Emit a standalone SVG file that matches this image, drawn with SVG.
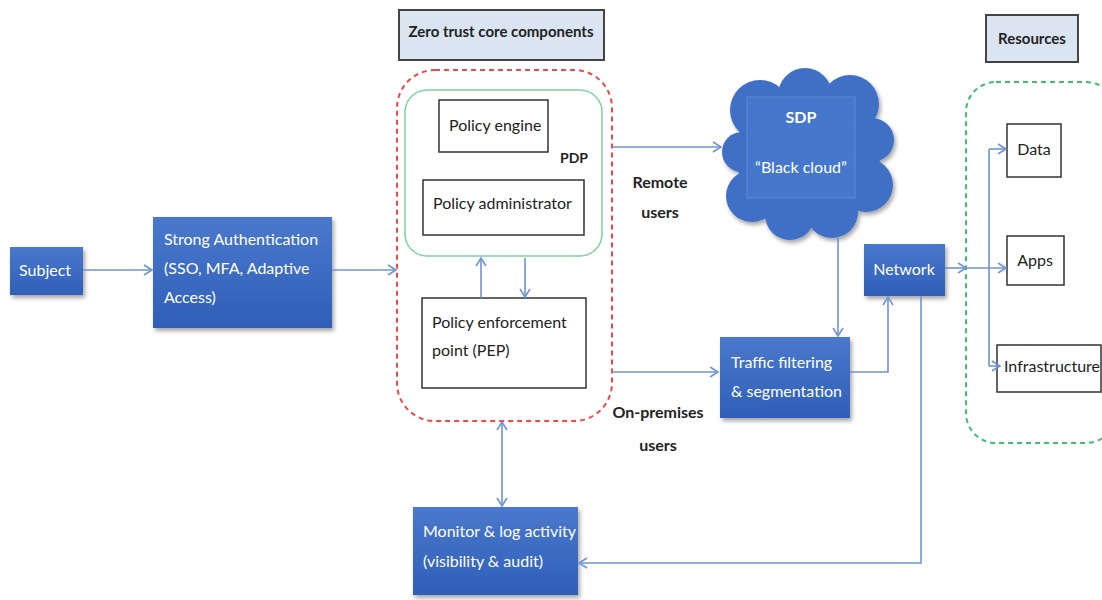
<svg xmlns="http://www.w3.org/2000/svg" width="1102" height="600" viewBox="0 0 1102 600">
<style>
text{font-family:Lato,"Open Sans","Liberation Sans",sans-serif}
.blue{fill:url(#bg);filter:url(#sh)}
.wt{fill:#fff;font-size:16px}
.box{fill:#fff;stroke:#333;stroke-width:1.5}
.bt{fill:#222;font-size:16px}
.hdr{fill:#dbe5f1;stroke:#444;stroke-width:2}
.ht{fill:#222;font-size:15px;font-weight:bold}
.lbl{fill:#222;font-size:16px;font-weight:bold;text-anchor:middle}
.c{fill:none;stroke:#6f94d6;stroke-width:1.6}
.ca{fill:none;stroke:#6f94d6;stroke-width:1.6;marker-end:url(#ar)}
</style>
<defs>
<linearGradient id="bg" x1="0" y1="0" x2="0" y2="1"><stop offset="0" stop-color="#4a78cc"/><stop offset="1" stop-color="#2f5fb8"/></linearGradient>
<filter id="sh" x="-10%" y="-10%" width="130%" height="130%"><feDropShadow dx="2" dy="3" stdDeviation="2" flood-color="#000" flood-opacity="0.35"/></filter>
<marker id="ar" markerWidth="12" markerHeight="12" refX="10" refY="6" orient="auto" markerUnits="userSpaceOnUse"><path d="M2,1 L10,6 L2,11" fill="none" stroke="#6f94d6" stroke-width="1.6"/></marker>
<marker id="as" markerWidth="12" markerHeight="12" refX="2" refY="6" orient="auto" markerUnits="userSpaceOnUse"><path d="M10,1 L2,6 L10,11" fill="none" stroke="#6f94d6" stroke-width="1.6"/></marker>
</defs>
<rect width="1102" height="600" fill="#fff"/>

<g id="zt-header"><rect class="hdr" x="399" y="10" width="205" height="50"/><text class="ht" x="501" y="37" text-anchor="middle">Zero trust core components</text></g>
<g id="zt-container"><rect x="397" y="70" width="215" height="351" rx="38" fill="none" stroke="#f04848" stroke-width="2" stroke-dasharray="5,4"/></g>
<g id="pdp"><rect x="405" y="90" width="197" height="166" rx="22" fill="none" stroke="#7fd3a0" stroke-width="1.5"/><text x="560" y="163" fill="#222" font-size="14" font-weight="bold">PDP</text></g>
<g id="policy-engine"><rect class="box" x="439" y="100" width="109" height="52"/><text class="bt" x="449" y="131">Policy engine</text></g>
<g id="policy-admin"><rect class="box" x="423" y="180" width="161" height="55"/><text class="bt" x="433" y="209">Policy administrator</text></g>
<g id="pep"><rect class="box" x="422" y="298" width="164" height="90"/><text class="bt" x="432" y="328">Policy enforcement</text><text class="bt" x="432" y="356">point (PEP)</text></g>

<g id="subject"><rect class="blue" x="10" y="247" width="73" height="48"/><text class="wt" x="19" y="276">Subject</text></g>
<g id="strong-auth"><rect class="blue" x="153" y="217" width="179" height="111"/><text class="wt" x="164" y="245">Strong Authentication</text><text class="wt" x="164" y="274">(SSO, MFA, Adaptive</text><text class="wt" x="164" y="303">Access)</text></g>

<g id="sdp-cloud">
<g fill="#3f6fc6" filter="url(#sh)">
<ellipse cx="808" cy="155" rx="72" ry="66"/>
<circle cx="760" cy="110" r="30"/><circle cx="805" cy="95" r="27"/><circle cx="850" cy="104" r="29"/><circle cx="872" cy="140" r="22"/><circle cx="866" cy="185" r="27"/><circle cx="832" cy="212" r="26"/><circle cx="790" cy="215" r="25"/><circle cx="752" cy="196" r="26"/><circle cx="742" cy="152" r="20"/>
</g>
<rect x="747" y="97" width="108" height="101" fill="#4577cc" stroke="#5f8ad6" stroke-width="1"/>
<text class="wt" x="801" y="123" text-anchor="middle" font-weight="bold">SDP</text>
<text class="wt" x="801" y="173" text-anchor="middle">“Black cloud”</text>
</g>

<g id="traffic"><rect class="blue" x="720" y="337" width="130" height="81"/><text class="wt" x="731" y="368">Traffic filtering</text><text class="wt" x="731" y="397">&amp; segmentation</text></g>
<g id="network"><rect class="blue" x="864" y="244" width="81" height="52"/><text class="wt" x="904" y="275" text-anchor="middle">Network</text></g>
<g id="monitor"><rect class="blue" x="413" y="507" width="165" height="88"/><text class="wt" x="423" y="537">Monitor &amp; log activity</text><text class="wt" x="423" y="567">(visibility &amp; audit)</text></g>

<g id="res-header"><rect class="hdr" x="986" y="15" width="92" height="47"/><text class="ht" x="1032" y="44" text-anchor="middle">Resources</text></g>
<g id="res-container"><rect x="966" y="82" width="150" height="361" rx="30" fill="none" stroke="#3cbf6e" stroke-width="2" stroke-dasharray="5,4"/></g>
<g id="data"><rect class="box" x="1007" y="124" width="54" height="53"/><text class="bt" x="1034" y="155" text-anchor="middle">Data</text></g>
<g id="apps"><rect class="box" x="1007" y="236" width="57" height="49"/><text class="bt" x="1035" y="266" text-anchor="middle">Apps</text></g>
<g id="infra"><rect class="box" x="997" y="345" width="104" height="47"/><text class="bt" x="1004" y="372" font-size="13">Infrastructure</text></g>

<text class="lbl" x="660" y="188">Remote</text><text class="lbl" x="660" y="218">users</text>
<text class="lbl" x="658" y="418">On-premises</text><text class="lbl" x="658" y="451">users</text>

<g id="connectors">
<path class="ca" d="M83,270 H152"/>
<path class="ca" d="M332,270 H396"/>
<path class="ca" d="M481,298 V258"/>
<path class="ca" d="M525,258 V297"/>
<path class="ca" d="M612,147 H721" />
<path class="ca" d="M612,372 H718"/>
<path class="ca" d="M838,238 V336"/>
<path class="ca" d="M850,372 H888 V297"/>
<path class="ca" d="M502,422 V506" marker-start="url(#as)"/>
<path class="ca" d="M921,296 V563 H579"/>
<path class="ca" d="M945,268 H966"/>
<path class="ca" d="M966,268 H1006"/>
<path class="c" d="M989,149 V366"/>
<path class="ca" d="M989,149 H1006"/>
<path class="ca" d="M989,366 H1000"/>
</g>
</svg>
